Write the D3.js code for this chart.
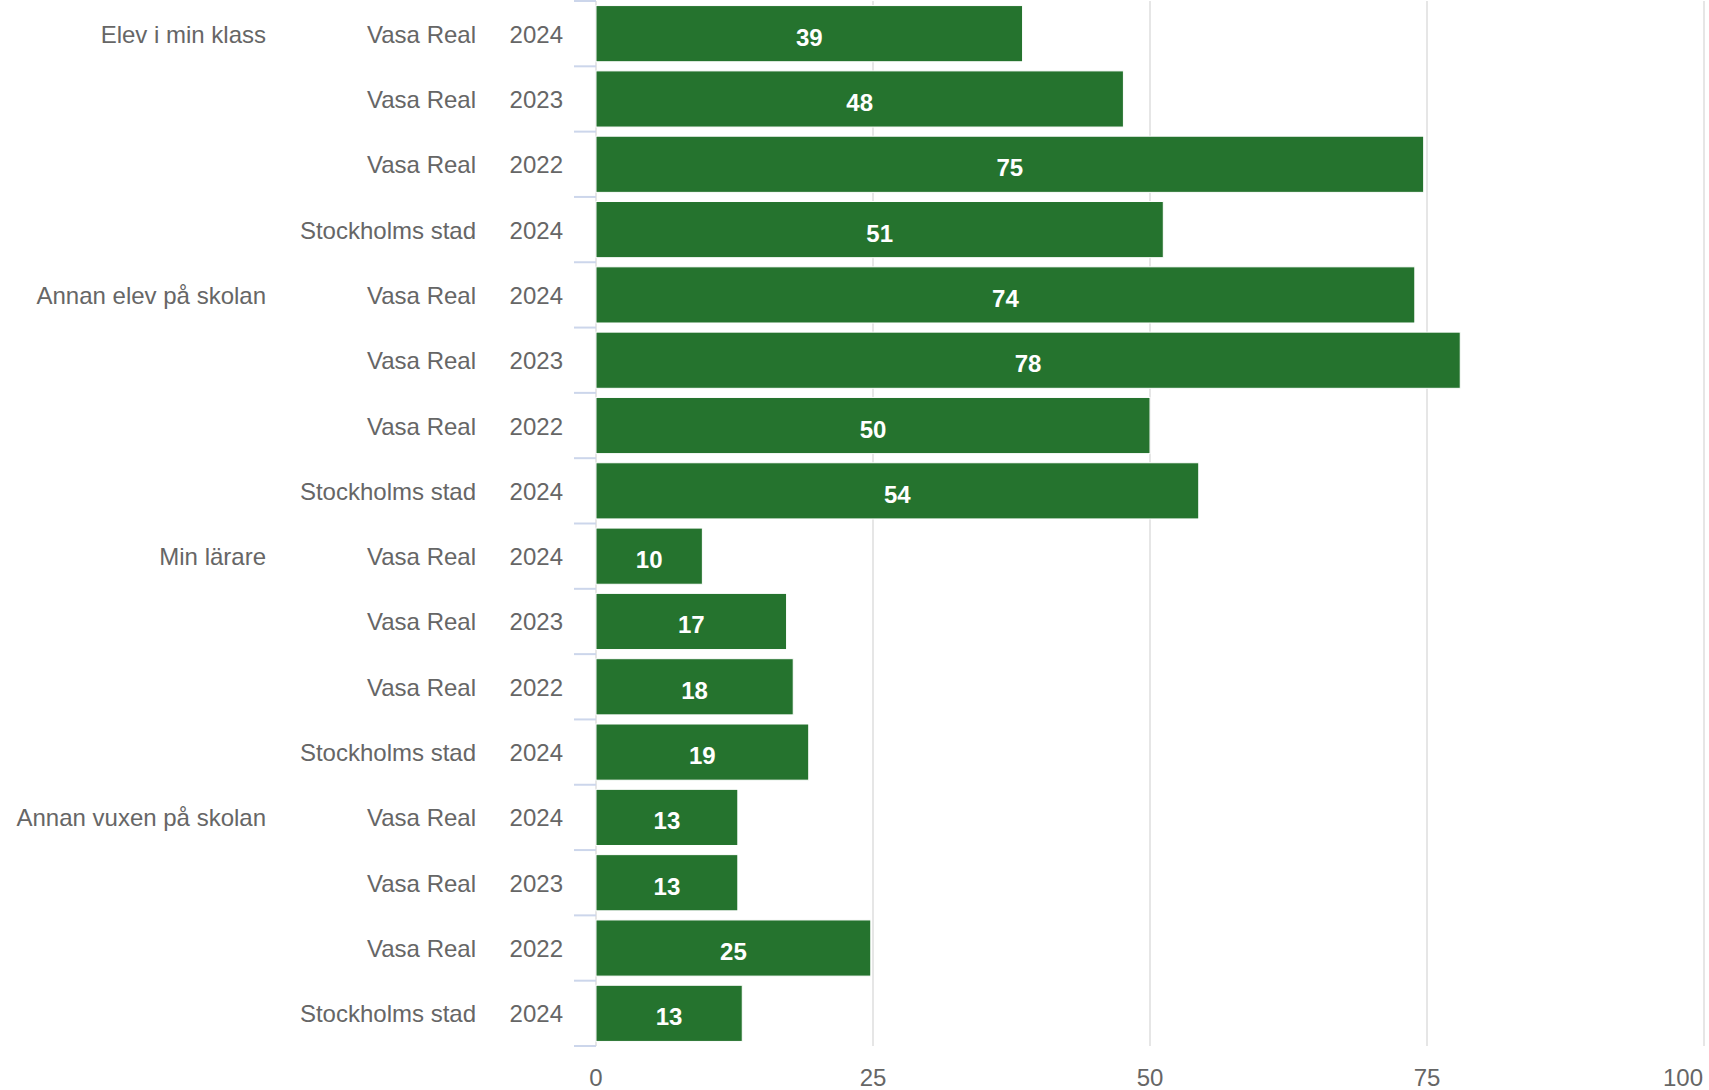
<!DOCTYPE html>
<html>
<head>
<meta charset="utf-8">
<script src="https://cdn.jsdelivr.net/npm/d3@7"></script>
<style>
  body { margin: 0; background: #fff; }
  text { font-family: "Liberation Sans", Arial, sans-serif; }
</style>
</head>
<body>
<script>
const width = 1709;
const height = 1090;

const groups = ['Elev i min klass', 'Annan elev på skolan', 'Min lärare', 'Annan vuxen på skolan'];
const schools = ['Vasa Real', 'Vasa Real', 'Vasa Real', 'Stockholms stad'];
const years = ['2024', '2023', '2022', '2024'];
const values = [
  [38.5, 47.6, 74.7, 51.2],
  [73.9, 78.0, 50.0, 54.4],
  [9.6, 17.2, 17.8, 19.2],
  [12.8, 12.8, 24.8, 13.2],
];
const xTicks = [0, 25, 50, 75, 100];

const rows = [];
groups.forEach((g, gi) => {
  schools.forEach((s, si) => {
    rows.push({ key: gi * 4 + si, group: g, first: si === 0, school: s, year: years[si], value: values[gi][si] });
  });
});

const margin = { top: 1, right: 5, bottom: 44, left: 596 };

const svg = d3.select('body')
  .append('svg')
  .attr('width', width)
  .attr('height', height);

const x = d3.scaleLinear()
  .domain([0, 100])
  .range([margin.left, width - margin.right]);

const y = d3.scaleBand()
  .domain(rows.map(d => d.key))
  .range([margin.top, height - margin.bottom])
  .paddingInner(0.14)
  .paddingOuter(0.07);

const step = y.step();
const plotTop = margin.top;
const plotBottom = height - margin.bottom;

// grid lines
svg.selectAll('.grid')
  .data(xTicks)
  .join('line')
    .attr('x1', d => x(d))
    .attr('x2', d => x(d))
    .attr('y1', plotTop)
    .attr('y2', plotBottom)
    .attr('stroke', '#e6e6e6')
    .attr('stroke-width', 2);

// category ticks (band boundaries)
const bounds = d3.range(rows.length + 1);
svg.selectAll('.ytick')
  .data(bounds)
  .join('line')
    .attr('x1', margin.left - 22)
    .attr('x2', margin.left)
    .attr('y1', d => plotTop + d * step)
    .attr('y2', d => plotTop + d * step)
    .attr('stroke', '#ccd6eb')
    .attr('stroke-width', 2);

// bars
svg.selectAll('.bar')
  .data(rows)
  .join('rect')
    .attr('x', x(0))
    .attr('y', d => y(d.key))
    .attr('width', d => x(d.value) - x(0))
    .attr('height', y.bandwidth())
    .attr('fill', '#25732e')
    .attr('stroke', '#fff')
    .attr('stroke-width', 1);

// bar labels
svg.selectAll('.vlabel')
  .data(rows)
  .join('text')
    .attr('x', d => (x(d.value) + x(0)) / 2)
    .attr('y', d => y(d.key) + y.bandwidth() / 2 + 12)
    .attr('text-anchor', 'middle')
    .attr('font-size', 24)
    .attr('font-weight', 'bold')
    .attr('fill', '#fff')
    .text(d => Math.round(d.value));

// y labels: year, school, group
const midY = d => y(d.key) + y.bandwidth() / 2 + 9;
svg.selectAll('.year')
  .data(rows)
  .join('text')
    .attr('x', 563)
    .attr('y', midY)
    .attr('text-anchor', 'end')
    .attr('font-size', 24)
    .attr('fill', '#666')
    .text(d => d.year);

svg.selectAll('.school')
  .data(rows)
  .join('text')
    .attr('x', 476)
    .attr('y', midY)
    .attr('text-anchor', 'end')
    .attr('font-size', 24)
    .attr('fill', '#666')
    .text(d => d.school);

svg.selectAll('.group')
  .data(rows.filter(d => d.first))
  .join('text')
    .attr('x', 266)
    .attr('y', midY)
    .attr('text-anchor', 'end')
    .attr('font-size', 24)
    .attr('fill', '#666')
    .text(d => d.group);

// x axis labels
svg.selectAll('.xlabel')
  .data(xTicks)
  .join('text')
    .attr('x', d => Math.min(x(d), width - 26))
    .attr('y', 1086)
    .attr('text-anchor', 'middle')
    .attr('font-size', 24)
    .attr('fill', '#666')
    .text(d => d);
</script>
</body>
</html>
